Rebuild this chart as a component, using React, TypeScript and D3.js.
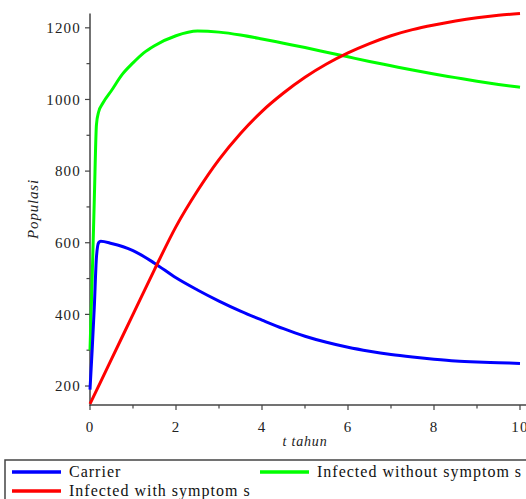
import { useEffect, useRef } from 'react'
import * as d3 from 'd3'

const W = 526, H = 499
const X0 = 90, X1 = 520, Y0 = 405, Y1 = 13.5

// t (tahun) sample points and series values
const carrierT = [0, 0.05, 0.1, 0.15, 0.2, 0.25, 0.5, 1, 1.5, 2, 2.5, 3, 3.5, 4, 4.5, 5, 5.5, 6, 6.5, 7, 7.5, 8, 8.5, 9, 9.5, 10]
const carrier = [190, 300, 420, 560, 600, 604, 598, 578, 543, 502, 468, 437, 409, 384, 360, 339, 322, 308, 297, 288, 281, 275, 270, 267, 265, 263]

const noSymT = [0, 0.05, 0.1, 0.15, 0.2, 0.3, 0.5, 0.75, 1, 1.25, 1.5, 2, 2.5, 3, 3.5, 4, 4.5, 5, 5.5, 6, 6.5, 7, 7.5, 8, 8.5, 9, 9.5, 10]
const noSym = [300, 500, 720, 930, 965, 990, 1025, 1070, 1102, 1130, 1150, 1178, 1191, 1188, 1180, 1169, 1157, 1145, 1132, 1119, 1106, 1094, 1082, 1071, 1061, 1051, 1042, 1034]

const withSymT = [0, 0.5, 1, 1.5, 2, 2.5, 3, 3.5, 4, 4.5, 5, 5.5, 6, 6.5, 7, 7.5, 8, 8.5, 9, 9.5, 10]
const withSym = [150, 275, 400, 525, 645, 745, 832, 905, 967, 1018, 1062, 1099, 1130, 1156, 1178, 1195, 1208, 1219, 1228, 1235, 1240]

const xMajor = [0, 2, 4, 6, 8, 10]
const xMinor = [1, 3, 5, 7, 9]
const yMajor = [200, 400, 600, 800, 1000, 1200]
const yMinor = [300, 500, 700, 900, 1100]

const legendItems = [
  { label: 'Carrier', color: '#0000ff', col: 0, row: 0 },
  { label: 'Infected without symptom s', color: '#00ff00', col: 1, row: 0 },
  { label: 'Infected with symptom s', color: '#ff0000', col: 0, row: 1 },
]

const FONT = "'Times New Roman', Times, 'Liberation Serif', 'DejaVu Serif', 'Noto Serif', serif"

export default function App() {
  const svgRef = useRef<SVGSVGElement>(null)

  useEffect(() => {
    const svg = d3.select(svgRef.current!)
    svg.selectAll('*').remove()

    const x = d3.scaleLinear().domain([0, 10]).range([X0, X1])
    const y = d3.scaleLinear().domain([147, 1240]).range([Y0, Y1])

    const axisCol = '#444'
    const txt = (sel: d3.Selection<SVGTextElement, unknown, null, undefined>, size: number) =>
      sel.style('font-family', FONT).style('font-size', `${size}px`)

    // axes
    svg.append('line').attr('x1', X0).attr('x2', X0).attr('y1', Y1).attr('y2', Y0 + 1)
      .attr('stroke', axisCol).attr('stroke-width', 1.5)
    svg.append('line').attr('x1', X0).attr('x2', W).attr('y1', Y0).attr('y2', Y0)
      .attr('stroke', axisCol).attr('stroke-width', 1.5)

    yMajor.forEach(v => {
      svg.append('line').attr('x1', X0 - 5).attr('x2', X0).attr('y1', y(v)).attr('y2', y(v))
        .attr('stroke', axisCol).attr('stroke-width', 1.2)
      txt(svg.append('text'), 15).attr('x', X0 - 9).attr('y', y(v)).attr('dy', '0.35em')
        .attr('text-anchor', 'end').attr('letter-spacing', 1.2).attr('fill', '#222').text(v)
    })
    yMinor.forEach(v => {
      svg.append('line').attr('x1', X0 - 3.5).attr('x2', X0).attr('y1', y(v)).attr('y2', y(v))
        .attr('stroke', axisCol).attr('stroke-width', 1.2)
    })
    xMajor.forEach(v => {
      svg.append('line').attr('x1', x(v)).attr('x2', x(v)).attr('y1', Y0).attr('y2', Y0 + 5)
        .attr('stroke', axisCol).attr('stroke-width', 1.2)
      txt(svg.append('text'), 15).attr('x', x(v)).attr('y', 432)
        .attr('text-anchor', 'middle').attr('letter-spacing', 1.2).attr('fill', '#222').text(v)
    })
    xMinor.forEach(v => {
      svg.append('line').attr('x1', x(v)).attr('x2', x(v)).attr('y1', Y0).attr('y2', Y0 + 3.5)
        .attr('stroke', axisCol).attr('stroke-width', 1.2)
    })

    // axis titles
    txt(svg.append('text'), 14).attr('x', (X0 + X1) / 2).attr('y', 446)
      .attr('text-anchor', 'middle').style('font-style', 'italic')
      .attr('letter-spacing', 0.8).attr('fill', '#222').text('t tahun')
    txt(svg.append('text'), 15).attr('transform', 'translate(38,209) rotate(-90)')
      .attr('text-anchor', 'middle').style('font-style', 'italic')
      .attr('letter-spacing', 0.8).attr('fill', '#222').text('Populasi')

    // curves
    const draw = (ts: number[], vs: number[], color: string) => {
      const line = d3.line<number>()
        .x((_, i) => x(ts[i])).y(v => y(v)).curve(d3.curveMonotoneX)
      svg.append('path').datum(vs)
        .attr('fill', 'none').attr('stroke', color).attr('stroke-width', 3)
        .attr('stroke-linejoin', 'round').attr('d', line)
    }
    draw(noSymT, noSym, '#00ff00')
    draw(carrierT, carrier, '#0000ff')
    draw(withSymT, withSym, '#ff0000')

    // legend
    svg.append('rect').attr('x', 5).attr('y', 460).attr('width', 560).attr('height', 80)
      .attr('fill', 'none').attr('stroke', '#444').attr('stroke-width', 1.5)
    legendItems.forEach(({ label, color, col, row }) => {
      const lx = col === 0 ? 12 : 260
      const ly = 472 + row * 19
      svg.append('line').attr('x1', lx).attr('x2', lx + 49).attr('y1', ly).attr('y2', ly)
        .attr('stroke', color).attr('stroke-width', 3.5)
      txt(svg.append('text'), 16).attr('x', lx + 57).attr('y', ly).attr('dy', '0.32em')
        .attr('letter-spacing', 1).attr('fill', '#111').text(label)
    })
  }, [])

  return (
    <svg ref={svgRef} width={W} height={H}
      style={{ position: 'absolute', left: 0, top: 0, background: '#fff' }} />
  )
}
